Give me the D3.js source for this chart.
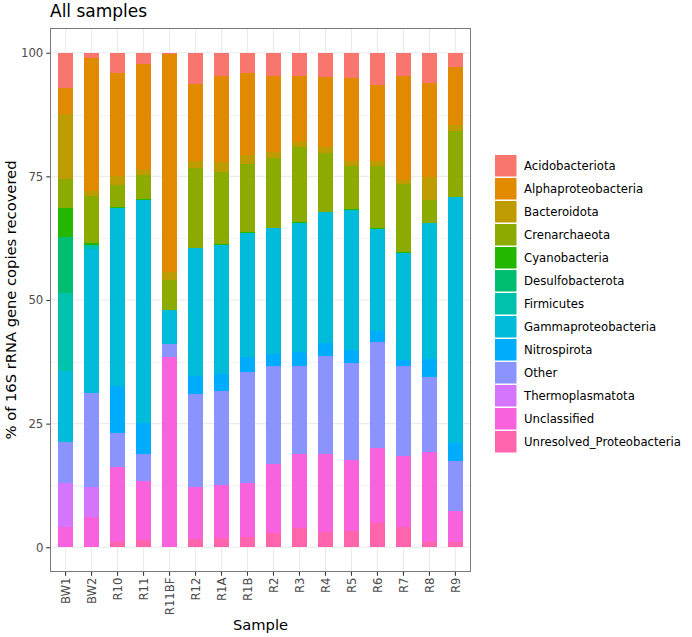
<!DOCTYPE html>
<html>
<head>
<meta charset="utf-8">
<script src="https://cdn.jsdelivr.net/npm/d3@7"></script>
<style>
  html, body { margin: 0; padding: 0; background: #fff; }
  svg { display: block; font-family: "DejaVu Sans", sans-serif; }
</style>
</head>
<body>
<svg id="chart" width="692" height="637"></svg>
<script>
const samples = ["BW1","BW2","R10","R11","R11BF","R12","R1A","R1B","R2","R3","R4","R5","R6","R7","R8","R9"];
const categories = ["Acidobacteriota","Alphaproteobacteria","Bacteroidota","Crenarchaeota","Cyanobacteria","Desulfobacterota","Firmicutes","Gammaproteobacteria","Nitrospirota","Other","Thermoplasmatota","Unclassified","Unresolved_Proteobacteria"];
const colors = ["#F8766D","#E18A00","#BE9C00","#8CAB00","#24B700","#00BE70","#00C1AB","#00BBDA","#00ACFC","#8B93FF","#D575FE","#F962DD","#FF65AC"];

const Acidobacteriota           = [7.1, 1.0, 4.1, 2.3, 0.2, 6.3, 4.7, 4.1, 4.7, 4.7, 4.9, 5.1, 6.5, 4.7, 6.1, 2.9];
const Alphaproteobacteria       = [5.3, 27.0, 20.9, 21.5, 44.2, 15.5, 17.4, 16.5, 15.4, 13.3, 14.1, 16.7, 15.3, 21.0, 19.0, 11.7];
const Bacteroidota              = [13.1, 0.9, 1.7, 0.9, 1.5, 1.6, 2.0, 2.0, 1.2, 1.0, 1.2, 1.2, 1.2, 0.8, 4.7, 1.2];
const Crenarchaeota             = [5.9, 9.6, 4.5, 4.8, 6.1, 16.1, 14.6, 13.6, 14.1, 15.2, 12.1, 8.7, 12.4, 13.8, 4.6, 13.4];
const Cyanobacteria             = [5.9, 0.4, 0.2, 0.3, 0, 0, 0.2, 0.2, 0, 0.2, 0, 0.2, 0.2, 0.2, 0, 0];
const Desulfobacterota          = [11.3, 0, 0, 0, 0, 0, 0, 0, 0, 0, 0, 0, 0, 0, 0, 0];
const Firmicutes                = [15.7, 0.7, 0, 0, 0, 0, 0, 0, 0, 0, 0, 0, 0, 0, 0, 0];
const Gammaproteobacteria       = [14.4, 29.2, 35.9, 45.1, 6.8, 25.8, 26.0, 25.1, 25.5, 26.1, 26.4, 28.2, 20.7, 21.6, 27.5, 49.7];
const Nitrospirota              = [0, 0, 9.6, 6.2, 0, 3.7, 3.5, 3.0, 2.4, 2.8, 2.6, 2.6, 2.2, 1.2, 3.7, 3.6];
const Other                     = [8.3, 19.1, 6.9, 5.6, 2.7, 18.8, 19.1, 22.6, 19.9, 17.8, 19.8, 19.6, 21.4, 18.2, 15.1, 10.2];
const Thermoplasmatota          = [8.9, 6.0, 0, 0, 0, 0, 0, 0, 0, 0, 0, 0, 0, 0, 0, 0];
const Unclassified              = [4.1, 6.1, 15.1, 11.8, 38.5, 10.5, 10.6, 10.8, 13.9, 15.0, 15.8, 14.4, 15.2, 14.4, 18.2, 6.2];
const Unresolved_Proteobacteria = [0, 0, 1.1, 1.5, 0, 1.7, 1.9, 2.1, 2.9, 3.9, 3.1, 3.3, 4.9, 4.1, 1.1, 1.1];

const yTicks = [0, 25, 50, 75, 100];
const yMinor = [12.5, 37.5, 62.5, 87.5];

const seriesValues = {Acidobacteriota, Alphaproteobacteria, Bacteroidota, Crenarchaeota, Cyanobacteria,
  Desulfobacterota, Firmicutes, Gammaproteobacteria, Nitrospirota, Other, Thermoplasmatota,
  Unclassified, Unresolved_Proteobacteria};

const rows = samples.map((s, i) => {
  const r = {sample: s};
  categories.forEach(c => r[c] = seriesValues[c][i]);
  return r;
});

const svg = d3.select("#chart");
const P = {left: 50, right: 471, top: 28, bottom: 572};

const x = d3.scaleBand().domain(samples).range([P.left, P.right]).paddingInner(0.4).paddingOuter(0.3);
const y = d3.scaleLinear().domain([-5, 105]).range([P.bottom, P.top]);
const color = d3.scaleOrdinal().domain(categories).range(colors);

svg.append("rect").attr("x", P.left).attr("y", P.top).attr("width", P.right - P.left).attr("height", P.bottom - P.top).attr("fill", "#fff");

const grid = svg.append("g");
grid.selectAll(".minor").data(yMinor).join("line")
  .attr("x1", P.left).attr("x2", P.right)
  .attr("y1", d => Math.round(y(d)) + 0.5).attr("y2", d => Math.round(y(d)) + 0.5)
  .attr("stroke", "#F3F3F3").attr("stroke-width", 1);
grid.selectAll(".major").data(yTicks).join("line")
  .attr("x1", P.left).attr("x2", P.right)
  .attr("y1", d => y(d)).attr("y2", d => y(d))
  .attr("stroke", "#EBEBEB").attr("stroke-width", 1.07);
grid.selectAll(".vmajor").data(samples).join("line")
  .attr("x1", d => x(d) + x.bandwidth() / 2).attr("x2", d => x(d) + x.bandwidth() / 2)
  .attr("y1", P.top).attr("y2", P.bottom)
  .attr("stroke", "#EBEBEB").attr("stroke-width", 1.07);

// stacked bars (first category on top)
const stack = d3.stack().keys(categories.slice().reverse());
const layers = stack(rows);
svg.append("g").attr("shape-rendering", "crispEdges").selectAll("g").data(layers).join("g")
  .attr("fill", d => color(d.key))
  .selectAll("rect").data(d => d.filter(p => p[1] > p[0])).join("rect")
  .attr("x", d => x(d.data.sample))
  .attr("width", x.bandwidth())
  .attr("y", d => y(d[1]))
  .attr("height", d => Math.max(0, y(d[0]) - y(d[1])));

svg.append("rect").attr("x", P.left + 0.5).attr("y", P.top + 0.5)
  .attr("width", P.right - P.left - 1).attr("height", P.bottom - P.top - 1)
  .attr("fill", "none").attr("stroke", "#7A7A7A").attr("stroke-width", 1);

const yAxis = d3.axisLeft(y).tickValues(yTicks).tickSize(3.7).tickPadding(3).tickFormat(d3.format("d"));
const gy = svg.append("g").attr("transform", `translate(${P.left},0)`).call(yAxis);
gy.select(".domain").remove();
gy.selectAll(".tick line").attr("stroke", "#333333").attr("stroke-width", 1.07);
gy.selectAll(".tick text").attr("fill", "#4D4D4D").style("font-size", "11.7px").style("font-family", "DejaVu Sans, sans-serif");

const xAxis = d3.axisBottom(x).tickSize(3.7).tickPadding(3);
const gx = svg.append("g").attr("transform", `translate(0,${P.bottom})`).call(xAxis);
gx.select(".domain").remove();
gx.selectAll(".tick line").attr("stroke", "#333333").attr("stroke-width", 1.07);
gx.selectAll(".tick text")
  .attr("fill", "#4D4D4D").style("font-size", "11.7px").style("font-family", "DejaVu Sans, sans-serif")
  .attr("text-anchor", "end")
  .attr("transform", "translate(0,5.5) rotate(-90)")
  .attr("x", 0).attr("y", 0).attr("dy", "0.35em");

svg.append("text").attr("x", 50).attr("y", 17).attr("fill", "#000")
  .style("font-size", "17px").text("All samples");
svg.append("text").attr("x", (P.left + P.right) / 2).attr("y", 630).attr("text-anchor", "middle")
  .attr("fill", "#000").style("font-size", "14.7px").text("Sample");
svg.append("text").attr("transform", `translate(16,${(P.top + P.bottom) / 2}) rotate(-90)`)
  .attr("text-anchor", "middle").attr("fill", "#000").style("font-size", "14.7px")
  .text("% of 16S rRNA gene copies recovered");

const lg = svg.append("g").attr("transform", "translate(495,155)");
const item = lg.selectAll("g").data(categories).join("g")
  .attr("transform", (d, i) => `translate(0,${i * 23})`);
item.append("rect").attr("x", 0).attr("y", 0).attr("width", 21.5).attr("height", 21.5)
  .attr("fill", d => color(d));
item.append("text").attr("x", 29).attr("y", 10.9).attr("dy", "0.35em")
  .attr("fill", "#000").style("font-size", "11.7px").text(d => d);
</script>
</body>
</html>
